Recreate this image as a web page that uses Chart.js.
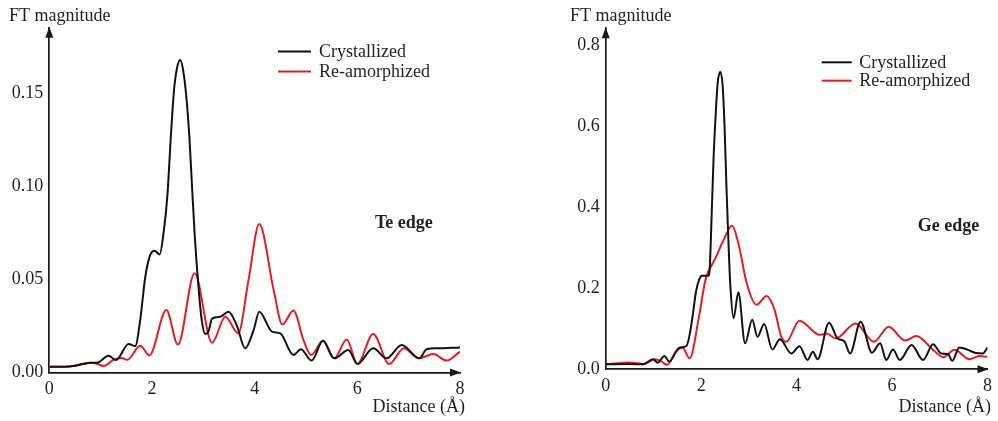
<!DOCTYPE html>
<html><head><meta charset="utf-8">
<script src="https://cdn.jsdelivr.net/npm/chart.js@4/dist/chart.umd.min.js"></script>
<style>
html,body{margin:0;padding:0;background:#fff;}
#wrap{position:relative;width:998px;height:421px;overflow:hidden;}
canvas{position:absolute;top:0;}
</style></head><body>
<div id="wrap">
<canvas id="te" width="500" height="421" style="left:0"></canvas>
<canvas id="ge" width="498" height="421" style="left:500px"></canvas>
</div>
<script>
// ---------- Te edge ----------
const teCrystX = [0, 0.3, 0.5, 0.8, 0.93, 1.155, 1.30, 1.545, 1.674, 1.77, 1.87, 1.966, 2.05, 2.15, 2.225, 2.30, 2.37, 2.43, 2.49, 2.55, 2.61, 2.67, 2.73, 2.78, 2.83, 2.90, 2.97, 3.036, 3.10, 3.17, 3.33, 3.49, 3.65, 3.815, 3.98, 4.09, 4.335, 4.5, 4.755, 4.9, 5.11, 5.33, 5.55, 5.825, 6.0, 6.31, 6.57, 6.865, 7.21, 7.35, 7.55, 8.0];
const teCrystY = [0.0031, 0.0031, 0.0036, 0.0053, 0.0053, 0.009, 0.0067, 0.0153, 0.0142, 0.028, 0.0515, 0.0632, 0.0655, 0.0635, 0.075, 0.095, 0.128, 0.152, 0.164, 0.168, 0.162, 0.148, 0.126, 0.10, 0.075, 0.048, 0.028, 0.0207, 0.022, 0.029, 0.030, 0.0327, 0.0255, 0.013, 0.0228, 0.0327, 0.022, 0.021, 0.0094, 0.0125, 0.0064, 0.0171, 0.0076, 0.0121, 0.0046, 0.013, 0.0076, 0.0148, 0.0076, 0.0125, 0.013, 0.0135];
const teAmorX = [0, 0.3, 0.5, 0.8, 0.9, 1.06, 1.25, 1.40, 1.52, 1.77, 1.95, 2.28, 2.505, 2.83, 3.17, 3.43, 3.68, 3.88, 4.09, 4.37, 4.54, 4.755, 4.95, 5.10, 5.33, 5.55, 5.795, 6.0, 6.31, 6.62, 6.91, 7.19, 7.48, 7.74, 8.0];
const teAmorY = [0.0031, 0.0031, 0.0036, 0.0053, 0.005, 0.0035, 0.0068, 0.0078, 0.0068, 0.0144, 0.0092, 0.0336, 0.015, 0.0533, 0.016, 0.030, 0.021, 0.0497, 0.0798, 0.0444, 0.0258, 0.0333, 0.0175, 0.0094, 0.0171, 0.0076, 0.0178, 0.0046, 0.0207, 0.0046, 0.013, 0.0076, 0.0099, 0.0064, 0.0112];
const teYTicks = [0, 0.05, 0.10, 0.15];

// ---------- Ge edge ----------
const geCrystX = [0, 0.5, 0.78, 0.99, 1.09, 1.23, 1.33, 1.54, 1.69, 1.75, 1.82, 1.89, 1.96, 2.02, 2.15, 2.18, 2.22, 2.26, 2.31, 2.35, 2.40, 2.45, 2.49, 2.53, 2.57, 2.61, 2.68, 2.78, 2.92, 3.07, 3.18, 3.32, 3.49, 3.65, 3.89, 4.06, 4.23, 4.34, 4.44, 4.68, 4.86, 5.0, 5.12, 5.34, 5.58, 5.75, 5.88, 6.02, 6.16, 6.41, 6.65, 6.86, 7.03, 7.17, 7.26, 7.41, 7.59, 7.76, 7.9, 8.0];
const geCrystY = [0.0123, 0.013, 0.0125, 0.0247, 0.0163, 0.033, 0.019, 0.053, 0.0575, 0.080, 0.13, 0.19, 0.222, 0.231, 0.231, 0.25, 0.38, 0.52, 0.64, 0.71, 0.734, 0.70, 0.60, 0.45, 0.32, 0.21, 0.126, 0.19, 0.064, 0.122, 0.080, 0.112, 0.049, 0.074, 0.039, 0.057, 0.023, 0.043, 0.025, 0.115, 0.076, 0.069, 0.039, 0.117, 0.041, 0.064, 0.023, 0.049, 0.023, 0.060, 0.023, 0.062, 0.039, 0.038, 0.021, 0.054, 0.048, 0.040, 0.039, 0.054];
const geAmorX = [0, 0.5, 0.8, 1.03, 1.16, 1.285, 1.47, 1.61, 1.76, 1.955, 2.09, 2.3, 2.47, 2.645, 2.78, 2.955, 3.16, 3.37, 3.54, 3.68, 3.785, 4.06, 4.48, 4.63, 4.82, 5.235, 5.62, 5.93, 6.27, 6.51, 6.86, 7.07, 7.31, 7.62, 7.83, 8.0];
const geAmorY = [0.0123, 0.017, 0.013, 0.025, 0.02, 0.011, 0.043, 0.053, 0.027, 0.13, 0.22, 0.274, 0.319, 0.354, 0.311, 0.212, 0.159, 0.181, 0.146, 0.080, 0.068, 0.12, 0.085, 0.088, 0.076, 0.113, 0.068, 0.105, 0.071, 0.082, 0.048, 0.030, 0.048, 0.025, 0.033, 0.030];
const geYTicks = [0, 0.2, 0.4, 0.6, 0.8];

const xTicks = [0, 2, 4, 6, 8];
const seriesLabels = ['Crystallized', 'Re-amorphized'];
const seriesColors = ['#111111', '#e31e26'];
const yTitle = 'FT magnitude';
const xTitle = 'Distance (Å)';

const FONT = '"Liberation Serif", "Times New Roman", serif';
const TEXT = '#231f20';
const AXIS = '#1a1a1a';

const pts = (xs, ys) => xs.map((x, i) => ({x, y: ys[i]}));

const decor = {
  id: 'decor',
  afterDraw(chart, args, o) {
    const {ctx, chartArea: a} = chart;
    ctx.save();
    // axis arrows
    ctx.fillStyle = AXIS;
    ctx.beginPath();
    ctx.moveTo(a.left, a.top - 1);
    ctx.lineTo(a.left - 4, a.top + 10);
    ctx.lineTo(a.left + 4, a.top + 10);
    ctx.closePath(); ctx.fill();
    ctx.beginPath();
    ctx.moveTo(a.right + 1, a.bottom);
    ctx.lineTo(a.right - 10, a.bottom - 4);
    ctx.lineTo(a.right - 10, a.bottom + 4);
    ctx.closePath(); ctx.fill();
    // titles
    ctx.fillStyle = TEXT;
    ctx.font = '18px ' + FONT;
    ctx.textAlign = 'left'; ctx.textBaseline = 'alphabetic';
    ctx.fillText(yTitle, o.yTitleX, o.yTitleY);
    ctx.textAlign = 'right'; ctx.textBaseline = 'middle';
    ctx.fillText(xTitle, a.right + o.xTitleDx, o.xTitleY);
    // legend
    chart.data.datasets.forEach((ds, i) => {
      const y = o.legY + i * o.legGap;
      ctx.strokeStyle = ds.borderColor; ctx.lineWidth = 2;
      ctx.beginPath(); ctx.moveTo(o.legX1, y); ctx.lineTo(o.legX2, y); ctx.stroke();
      ctx.fillStyle = TEXT; ctx.textAlign = 'left'; ctx.textBaseline = 'middle';
      ctx.fillText(ds.label, o.legTextX, y + 0.5);
    });
    // edge label
    ctx.font = 'bold 18px ' + FONT;
    ctx.textAlign = 'left'; ctx.textBaseline = 'middle';
    ctx.fillText(o.edge, o.edgeX, o.edgeY);
    ctx.restore();
  }
};

function makeChart(id, p) {
  return new Chart(document.getElementById(id), {
    type: 'line',
    data: {
      datasets: [
        {label: seriesLabels[0], data: pts(p.cx, p.cy), borderColor: seriesColors[0]},
        {label: seriesLabels[1], data: pts(p.ax, p.ay), borderColor: seriesColors[1]}
      ]
    },
    options: {
      responsive: false, animation: false, devicePixelRatio: 1,
      parsing: false,
      elements: {
        line: {borderWidth: 2, cubicInterpolationMode: 'monotone', fill: false},
        point: {radius: 0, hoverRadius: 0}
      },
      layout: {padding: {left: 0, top: p.top, right: p.right, bottom: p.bottom}},
      scales: {
        x: {
          type: 'linear', min: 0, max: 8,
          afterBuildTicks: s => { s.ticks = xTicks.map(v => ({value: v})); },
          ticks: {font: {family: FONT, size: 18}, color: TEXT, padding: 6, callback: v => String(v), maxRotation: 0},
          grid: {display: false, drawTicks: false},
          border: {display: true, color: AXIS, width: 1.7},
          afterFit: s => { s.height = 30; }
        },
        y: {
          type: 'linear', min: 0, max: p.ymax,
          afterBuildTicks: s => { s.ticks = p.yTicks.map(v => ({value: v})); },
          ticks: {font: {family: FONT, size: 18}, color: TEXT, padding: 6, callback: v => v.toFixed(p.dec)},
          grid: {display: false, drawTicks: false},
          border: {display: true, color: AXIS, width: 1.7},
          afterFit: s => { s.width = p.yw; }
        }
      },
      plugins: {
        legend: {display: false}, tooltip: {enabled: false}, title: {display: false},
        decor: p.decor
      }
    },
    plugins: [decor]
  });
}

makeChart('te', {
  cx: teCrystX, cy: teCrystY, ax: teAmorX, ay: teAmorY,
  ymax: 0.1854, yTicks: teYTicks, dec: 2,
  yw: 49.3, top: 27.7, right: 40, bottom: 18.5,
  decor: {yTitleX: 9, yTitleY: 21, xTitleDx: 5, xTitleY: 407,
          legX1: 278, legX2: 311, legY: 51.5, legGap: 20, legTextX: 319,
          edge: 'Te edge', edgeX: 375, edgeY: 223.5}
});
makeChart('ge', {
  cx: geCrystX, cy: geCrystY, ax: geAmorX, ay: geAmorY,
  ymax: 0.841, yTicks: geYTicks, dec: 1,
  yw: 105.7, top: 28.3, right: 6.3, bottom: 21.7,
  decor: {yTitleX: 70, yTitleY: 21, xTitleDx: 3.5, xTitleY: 407,
          legX1: 321.7, legX2: 351.7, legY: 62.3, legGap: 18.4, legTextX: 359.3,
          edge: 'Ge edge', edgeX: 417.7, edgeY: 226}
});
</script>
</body></html>
